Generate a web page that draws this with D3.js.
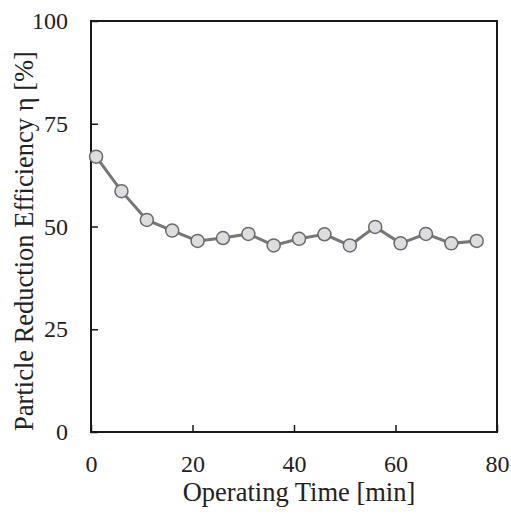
<!DOCTYPE html>
<html><head><meta charset="utf-8">
<script src="https://cdn.jsdelivr.net/npm/d3@7"></script>
<style>body{margin:0;background:#fff}</style>
</head><body>
<svg id="c" width="511" height="515"></svg>
<script>
const times = [1, 6, 11, 16, 21, 26, 31, 36, 41, 46, 51, 56, 61, 66, 71, 76];
const efficiency = [67.0, 58.6, 51.6, 49.0, 46.5, 47.2, 48.2, 45.4, 47.0, 48.1, 45.4, 49.9, 45.9, 48.2, 45.9, 46.5];
const xTicks = [0, 20, 40, 60, 80];
const yTicks = [0, 25, 50, 75, 100];
const xTitle = "Operating Time [min]";
const yTitle = "Particle Reduction Efficiency η [%]";

const svg = d3.select("#c");
const L = 91, R = 497, T = 21, B = 432;
const x = d3.scaleLinear().domain([0, 80]).range([L, R]);
const y = d3.scaleLinear().domain([0, 100]).range([B, T]);
const font = "'Liberation Serif','Times New Roman',serif";

// frame
svg.append("rect").attr("x", L).attr("y", T).attr("width", R - L).attr("height", B - T)
  .attr("fill", "none").attr("stroke", "#1a1a1a").attr("stroke-width", 2);

// axes with inward ticks
const xa = svg.append("g").attr("transform", `translate(0,${B})`)
  .call(d3.axisBottom(x).tickValues(xTicks).tickSizeInner(-7).tickSizeOuter(0).tickPadding(23));
const ya = svg.append("g").attr("transform", `translate(${L},0)`)
  .call(d3.axisLeft(y).tickValues(yTicks).tickSizeInner(-7).tickSizeOuter(0).tickPadding(23));
[xa, ya].forEach(g => {
  g.select(".domain").remove();
  g.selectAll("line").attr("stroke", "#1a1a1a").attr("stroke-width", 1.5);
  g.selectAll("text").attr("font-family", font).attr("font-size", 24).attr("fill", "#222");
});

// line
svg.append("path").datum(times.map((t, i) => [t, efficiency[i]]))
  .attr("fill", "none").attr("stroke", "#777").attr("stroke-width", 3)
  .attr("d", d3.line().x(d => x(d[0])).y(d => y(d[1])));

svg.selectAll("circle.pt").data(times).enter().append("circle")
  .attr("class", "pt")
  .attr("cx", d => x(d)).attr("cy", (d, i) => y(efficiency[i])).attr("r", 6.5)
  .attr("fill", "#dcdde0").attr("stroke", "#6a6a6a").attr("stroke-width", 1.5);

// titles
svg.append("text").attr("x", 299).attr("y", 501).attr("text-anchor", "middle")
  .attr("font-family", font).attr("font-size", 26.5).attr("fill", "#222").text(xTitle);
svg.append("text").attr("transform", `translate(33,241) rotate(-90)`)
  .attr("text-anchor", "middle").attr("font-family", font).attr("font-size", 26.5).attr("fill", "#222").text(yTitle);
</script>
</body></html>
